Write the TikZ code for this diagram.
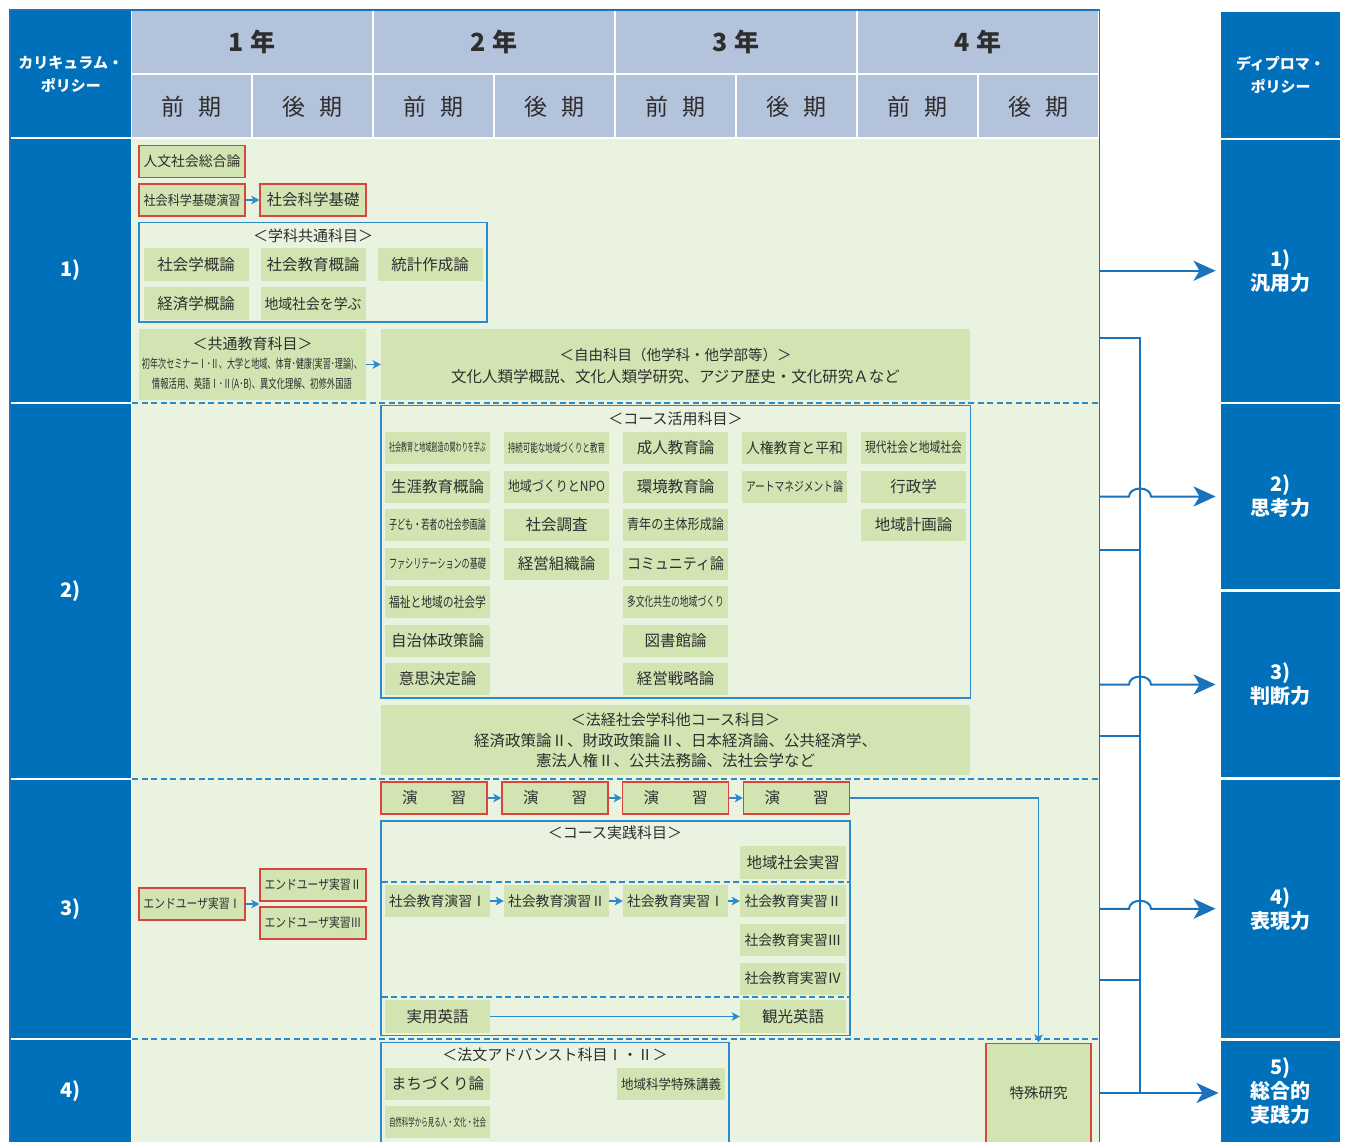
\documentclass[tikz,border=0pt]{standalone}
\usepackage{fontspec}
\setmainfont{Noto Sans CJK JP}
\usepackage{graphicx}
\usetikzlibrary{arrows.meta,calc}
\definecolor{dpblue}{HTML}{0070BA}
\definecolor{hdr}{HTML}{B4C3DC}
\definecolor{bgg}{HTML}{EAF3DF}
\definecolor{boxg}{HTML}{D1E4B2}
\definecolor{redb}{HTML}{D8453F}
\definecolor{lblue}{HTML}{2B8ACA}
\definecolor{cblue}{HTML}{1A72BA}
\definecolor{txt}{HTML}{2E2E2E}
\newsavebox\fitbox
\newcommand\fit[2][97pt]{\sbox\fitbox{#2}\ifdim\wd\fitbox>#1\relax\resizebox{#1}{\ht\fitbox}{\usebox\fitbox}\else\usebox\fitbox\fi}
\begin{document}
\begin{tikzpicture}[x=1pt,y=-1pt,
  cb/.style={fill=boxg, text=txt, minimum width=105pt, minimum height=32pt, inner sep=0pt, font=\fontsize{15.5}{15.5}\selectfont},
  rb/.style={cb, draw=redb, line width=1.3pt},
  fsz/.style={font=\fontsize{#1}{#1}\selectfont},
  grp/.style={draw=lblue, line width=1.2pt, inner sep=0pt},
  plain/.style={fill=boxg, inner sep=0pt},
  ttl/.style={text=txt, inner sep=0pt, font=\fontsize{15}{15}\selectfont},
  lcell/.style={fill=dpblue, text=white, minimum width=119.5pt, inner sep=0pt, align=center, font=\fontsize{20}{24}\selectfont\bfseries},
  hcell/.style={fill=hdr, text=txt, inner sep=0pt},
  sarr/.style={draw=lblue, line width=1.2pt, -{Stealth[length=8pt,width=8.5pt,inset=2pt]}},
  conn/.style={draw=cblue, line width=2pt},
  bigarr/.style={draw=cblue, line width=2pt, -{Stealth[length=22pt,width=20pt,inset=6pt]}},
  dsh/.style={draw=lblue, line width=1.3pt, dash pattern=on 6pt off 3.5pt}
]
\useasboundingbox (0,0) rectangle (1347,1142);
\clip (0,0) rectangle (1347,1142);
\fill[white] (0,0) rectangle (1347,1142);
% frame
\draw[cblue, line width=1.5pt, fill=white] (10,10) rectangle (1099.5,1170);
% course area background
\fill[bgg] (132,139.5) rectangle (1098.5,1170);
% header cells
\foreach \i/\t in {0/1,1/2,2/3,3/4}{
  \node[hcell, minimum width=240pt, minimum height=62pt, font=\fontsize{25}{25}\selectfont\bfseries] (yr\t) at ({252+242*\i},42) {\t\hspace{0.3em}年};
}
\foreach \i/\t in {0/前,1/後,2/前,3/後,4/前,5/後,6/前,7/後}{
  \node[hcell, minimum width=119pt, minimum height=62pt, font=\fontsize{23}{23}\selectfont] (sm\i) at ({191.5+121*\i},106.5) {\t\hspace{0.6em}期};
}
% left column
\node[lcell, minimum height=126.5pt, font=\fontsize{15}{23}\selectfont\bfseries] (cph) at (70.75,74.25) {カリキュラム・\\ポリシー};
\node[lcell, minimum height=262pt] (cp1) at (70.75,270.5) {1)};
\node[lcell, minimum height=373.5pt] (cp2) at (70.75,590.75) {2)};
\node[lcell, minimum height=257.5pt] (cp3) at (70.75,908.75) {3)};
\node[lcell, minimum height=102pt] (cp4) at (70.75,1091) {4)};
% diploma policy column
\node[lcell, minimum height=126pt, font=\fontsize{15}{23}\selectfont\bfseries] (dph) at (1280.5,75) {ディプロマ・\\ポリシー};
\node[lcell, minimum height=261.5pt] (dp1) at (1280.5,270.75) {1)\\汎用力};
\node[lcell, minimum height=185pt] (dp2) at (1280.5,496.5) {2)\\思考力};
\node[lcell, minimum height=185pt] (dp3) at (1280.5,684.5) {3)\\判断力};
\node[lcell, minimum height=258.5pt] (dp4) at (1280.5,908.75) {4)\\表現力};
\node[lcell, minimum height=101.5pt] (dp5) at (1280.5,1091.25) {5)\\総合的\\実践力};
% row separators
\draw[dsh] (132,403) -- (1098,403);
\draw[dsh] (132,779) -- (1098,779);
\draw[dsh] (132,1039) -- (1098,1039);

% ---------- row 1 ----------
\node[rb, minimum width=106pt, fsz=14] (n11) at (192,161.5) {\fit{人文社会総合論}};
\node[rb, minimum width=106pt, fsz=13.5] (n12) at (192,200) {\fit{社会科学基礎演習}};
\node[rb, minimum width=106pt] (n13) at (313,200) {\fit{社会科学基礎}};
\draw[sarr] (n12.east) -- (n13.west);
\node[grp, minimum width=348pt, minimum height=99.5pt] (gk) at (313,272.25) {};
\node[ttl] (gkt) at (313,236) {＜学科共通科目＞};
\node[cb, minimum height=32.5pt] (n14) at (196,264.5) {\fit{社会学概論}};
\node[cb, minimum height=32.5pt] (n15) at (313,264.5) {\fit{社会教育概論}};
\node[cb, minimum height=32.5pt] (n16) at (430,264.5) {\fit{統計作成論}};
\node[cb, minimum height=32.5pt] (n17) at (196,303.5) {\fit{経済学概論}};
\node[cb, minimum height=32.5pt, fsz=14.5] (n18) at (313,303.5) {\fit{地域社会を学ぶ}};
\node[plain, minimum width=227pt, minimum height=71pt] (kyo) at (252.5,364.5) {};
\node[ttl] (kyot) at (252.5,344) {＜共通教育科目＞};
\node[ttl, font=\fontsize{12.5}{12.5}\selectfont] (kyo1) at (252,364.5) {\fit[220pt]{初年次セミナーⅠ･Ⅱ、大学と地域、体育･健康(実習･理論)、}};
\node[ttl, font=\fontsize{12.5}{12.5}\selectfont] (kyo2) at (252,384.5) {\fit[200pt]{情報活用、英語Ⅰ･Ⅱ(A･B)、異文化理解、初修外国語}};
\node[plain, minimum width=589pt, minimum height=71pt] (jiyu) at (675.5,364.5) {};
\node[ttl, font=\fontsize{14.5}{14.5}\selectfont] (jiyu1) at (675.5,355) {＜自由科目（他学科・他学部等）＞};
\node[ttl, font=\fontsize{15.5}{15.5}\selectfont] (jiyu2) at (675.5,377) {文化人類学概説、文化人類学研究、アジア歴史・文化研究Ａなど};
\draw[sarr] (kyo.east) -- (jiyu.west);

% ---------- row 2 ----------
\node[grp, minimum width=589.5pt, minimum height=292.5pt] (ca) at (675.75,551.75) {};
\node[ttl] (cat) at (675.5,418.5) {＜コース活用科目＞};
\node[cb, fsz=11.5] (ca11) at (437.5,447.5) {\fit{社会教育と地域創造の関わりを学ぶ}};
\node[cb] (ca12) at (437.5,486.5) {\fit{生涯教育概論}};
\node[cb, fsz=13] (ca13) at (437.5,524.5) {\fit{子ども・若者の社会参画論}};
\node[cb, fsz=13] (ca14) at (437.5,563.5) {\fit{ファシリテーションの基礎}};
\node[cb, fsz=14] (ca15) at (437.5,602) {\fit{福祉と地域の社会学}};
\node[cb] (ca16) at (437.5,640.5) {\fit{自治体政策論}};
\node[cb] (ca17) at (437.5,679) {\fit{意思決定論}};
\node[cb, fsz=12] (ca21) at (556.5,447.5) {\fit{持続可能な地域づくりと教育}};
\node[cb, fsz=14] (ca22) at (556.5,486.5) {\fit{地域づくりとNPO}};
\node[cb] (ca23) at (556.5,524.5) {\fit{社会調査}};
\node[cb] (ca24) at (556.5,563.5) {\fit{経営組織論}};
\node[cb] (ca31) at (675.5,447.5) {\fit{成人教育論}};
\node[cb] (ca32) at (675.5,486.5) {\fit{環境教育論}};
\node[cb, fsz=14] (ca33) at (675.5,524.5) {\fit{青年の主体形成論}};
\node[cb] (ca34) at (675.5,563.5) {\fit{コミュニティ論}};
\node[cb, fsz=13] (ca35) at (675.5,602) {\fit{多文化共生の地域づくり}};
\node[cb] (ca36) at (675.5,640.5) {\fit{図書館論}};
\node[cb] (ca37) at (675.5,679) {\fit{経営戦略論}};
\node[cb, fsz=14.5] (ca41) at (794.5,447.5) {\fit{人権教育と平和}};
\node[cb, fsz=13] (ca42) at (794.5,486.5) {\fit{アートマネジメント論}};
\node[cb, fsz=14] (ca51) at (913.5,447.5) {\fit{現代社会と地域社会}};
\node[cb] (ca52) at (913.5,486.5) {\fit{行政学}};
\node[cb] (ca53) at (913.5,524.5) {\fit{地域計画論}};
\node[plain, minimum width=589pt, minimum height=70pt] (hk) at (675.5,740) {};
\node[ttl] (hk1) at (675.5,720) {＜法経社会学科他コース科目＞};
\node[ttl, font=\fontsize{15.5}{15.5}\selectfont] (hk2) at (675.5,741) {経済政策論Ⅱ、財政政策論Ⅱ、日本経済論、公共経済学、};
\node[ttl, font=\fontsize{15.5}{15.5}\selectfont] (hk3) at (675.5,761) {憲法人権Ⅱ、公共法務論、法社会学など};

% ---------- row 3 ----------
\node[rb, minimum width=106pt] (e1) at (434,798) {演\hspace{33pt}習};
\node[rb, minimum width=106pt] (e2) at (555,798) {演\hspace{33pt}習};
\node[rb, minimum width=106pt] (e3) at (675.5,798) {演\hspace{33pt}習};
\node[rb, minimum width=106pt] (e4) at (796.5,798) {演\hspace{33pt}習};
\draw[sarr] (e1.east) -- (e2.west);
\draw[sarr] (e2.east) -- (e3.west);
\draw[sarr] (e3.east) -- (e4.west);
\node[grp, minimum width=469pt, minimum height=214.5pt] (cj) at (615.5,928.25) {};
\node[ttl] (cjt) at (615,833) {＜コース実践科目＞};
\node[cb, minimum width=106pt, minimum height=33pt] (cjA) at (793,862.5) {\fit{地域社会実習}};
\draw[dsh] (381.5,882) -- (850,882);
\node[cb, fsz=14] (cj1) at (437.5,901) {\fit{社会教育演習Ⅰ}};
\node[cb, fsz=14] (cj2) at (556.5,901) {\fit{社会教育演習Ⅱ}};
\node[cb, fsz=14] (cj3) at (675.5,901) {\fit{社会教育実習Ⅰ}};
\node[cb, fsz=14, minimum width=106pt] (cj4) at (793,901) {\fit{社会教育実習Ⅱ}};
\draw[sarr] (cj1.east) -- (cj2.west);
\draw[sarr] (cj2.east) -- (cj3.west);
\draw[sarr] (cj3.east) -- (cj4.west);
\node[cb, fsz=14, minimum width=106pt] (cj5) at (793,940) {\fit{社会教育実習Ⅲ}};
\node[cb, fsz=14, minimum width=106pt] (cj6) at (793,978.5) {\fit{社会教育実習Ⅳ}};
\draw[dsh] (381.5,997) -- (850,997);
\node[cb, minimum height=33pt] (jy) at (437.5,1016.5) {\fit{実用英語}};
\node[cb, minimum width=106pt, minimum height=33pt] (kk) at (793,1016.5) {\fit{観光英語}};
\draw[sarr] (jy.east) -- (kk.west);
\node[rb, minimum width=106pt, fsz=13] (eu1) at (192,904) {\fit{エンドユーザ実習Ⅰ}};
\node[rb, minimum width=106pt, fsz=13] (eu2) at (313,885) {\fit{エンドユーザ実習Ⅱ}};
\node[rb, minimum width=106pt, fsz=13] (eu3) at (313,923) {\fit{エンドユーザ実習Ⅲ}};
\draw[sarr] (eu1.east) -- ($(eu2.south west)!0.5!(eu3.north west)$);

% ---------- row 4 ----------
\node[grp, minimum width=348pt, minimum height=107.5pt] (ha) at (555,1096.25) {};
\node[ttl] (hat) at (555,1055) {＜法文アドバンスト科目Ⅰ・Ⅱ＞};
\node[cb] (ha1) at (437.5,1084) {\fit{まちづくり論}};
\node[cb, minimum width=108pt, fsz=13.5] (ha2) at (671,1084) {\fit[100pt]{地域科学特殊講義}};
\node[cb, fsz=11] (ha3) at (437.5,1122) {\fit{自然科学から見る人・文化・社会}};
\node[rb, minimum width=105pt, minimum height=110pt, anchor=north] (toku) at (1038.5,1042.5) {};
\node[ttl, font=\fontsize{14.5}{14.5}\selectfont] (tokut) at (1038.5,1093) {特殊研究};
\draw[sarr] (e4.east) -| (toku.north);

% ---------- right connectors ----------
\coordinate (bt) at (1140,338);
\coordinate (bb) at (1140,1093);
\draw[bigarr, shorten >=5pt] (1100,270.75) -- (dp1.west);
\draw[conn] (1100,338) -- (bt) -- (bb);
\draw[conn] (1100,550) -- (1140,550);
\draw[conn] (1100,736) -- (1140,736);
\draw[conn] (1100,980) -- (1140,980);
\draw[bigarr, shorten >=5pt] (1100,496.5) -- (1129,496.5) arc[start angle=180,end angle=0,x radius=11pt,y radius=8pt] -- (dp2.west);
\draw[bigarr, shorten >=5pt] (1100,684.5) -- (1129,684.5) arc[start angle=180,end angle=0,x radius=11pt,y radius=8pt] -- (dp3.west);
\draw[bigarr, shorten >=5pt] (1100,908.75) -- (1129,908.75) arc[start angle=180,end angle=0,x radius=11pt,y radius=8pt] -- (dp4.west);
\draw[bigarr, shorten >=2pt] (1100,1093) -- (dp5.west |- bb);
\end{tikzpicture}
\end{document}
